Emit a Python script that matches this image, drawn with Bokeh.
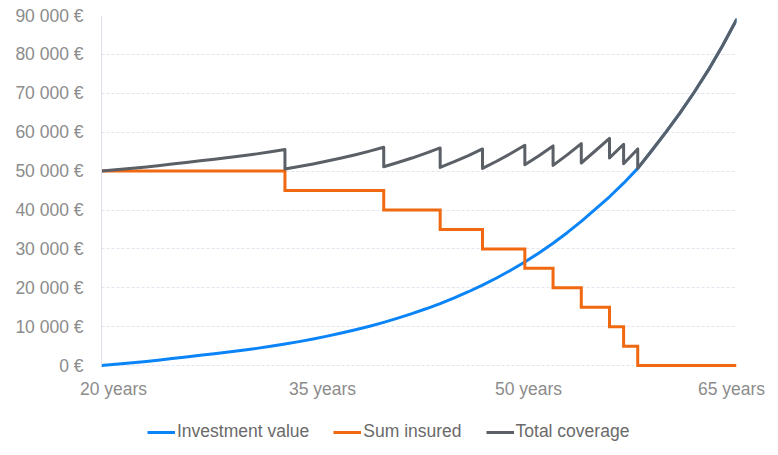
from bokeh.plotting import figure
from bokeh.layouts import column
from bokeh.models import Range1d, FixedTicker, Legend, LegendItem
from bokeh.embed import file_html
from bokeh.resources import INLINE

# ---- data ----
ages = list(range(20, 66))
investment = [0, 320, 658, 1017, 1397, 1799, 2227, 2652, 3046, 3472,
              3932, 4428, 4965, 5544, 6169, 6845, 7574, 8363, 9214, 10133,
              11125, 12197, 13355, 14606, 15956, 17414, 18990, 20691, 22528, 24512,
              26655, 28970, 31469, 34169, 37084, 40233, 43400, 46900, 50700, 55300,
              60000, 64980, 70276, 75954, 82148, 88896]
sum_insured = [50000] * 13 + [45000] * 7 + [40000] * 4 + [35000] * 3 + [30000] * 3 \
    + [25000] * 2 + [20000] * 2 + [15000] * 2 + [10000] + [5000] + [0] * 8

y_ticks = [0, 10000, 20000, 30000, 40000, 50000, 60000, 70000, 80000, 90000]
y_tick_labels = ["0 €", "10 000 €", "20 000 €", "30 000 €", "40 000 €",
                 "50 000 €", "60 000 €", "70 000 €", "80 000 €", "90 000 €"]
x_tick_labels = ["20 years", "35 years", "50 years", "65 years"]
x_tick_pos = [20.85, 35.66, 50.26, 64.65]

series_names = ["Investment value", "Sum insured", "Total coverage"]
colors = ["#0a84f6", "#f0680f", "#5b5f66"]

# total coverage = investment + sum insured (with vertical drops at step ages)
tot_x, tot_y = [], []
for i, a in enumerate(ages):
    if i > 0 and sum_insured[i] != sum_insured[i - 1]:
        tot_x.append(a)
        tot_y.append(investment[i] + sum_insured[i - 1])
    tot_x.append(a)
    tot_y.append(investment[i] + sum_insured[i])

FONT = "Liberation Sans"
FS = "17.5px"

p = figure(width=770, height=405, output_backend="svg", toolbar_location=None,
           x_range=Range1d(20, 65), y_range=Range1d(-1000, 90000),
           min_border_left=101, min_border_right=34, min_border_top=15,
           min_border_bottom=36)
p.outline_line_color = None
p.background_fill_color = "white"
p.border_fill_color = "white"

p.line(ages, investment, line_color=colors[0], line_width=3, line_join="round", line_cap="round")
p.step(ages, sum_insured, mode="after", line_color=colors[1], line_width=3, line_join="miter")
p.line(tot_x, tot_y, line_color=colors[2], line_width=3, line_join="round", line_cap="round")

# grid
p.xgrid.grid_line_color = None
p.ygrid.ticker = FixedTicker(ticks=y_ticks)
p.ygrid.grid_line_color = "#e2e3ec"
p.ygrid.grid_line_dash = "3 2"
p.ygrid.grid_line_width = 1

# y axis
p.yaxis.ticker = FixedTicker(ticks=y_ticks)
p.yaxis.major_label_overrides = dict(zip(y_ticks, y_tick_labels))
p.yaxis.axis_line_color = "#dde1ec"
p.yaxis.bounds = (0, 90000)
p.yaxis.major_tick_line_color = None
p.yaxis.minor_tick_line_color = None
p.yaxis.major_tick_out = 0
p.yaxis.major_tick_in = 0
p.yaxis.major_label_standoff = 18
p.yaxis.major_label_text_font = FONT
p.yaxis.major_label_text_font_size = FS
p.yaxis.major_label_text_color = "#8c8c8c"

# x axis
p.xaxis.ticker = FixedTicker(ticks=x_tick_pos)
p.xaxis.major_label_overrides = dict(zip(x_tick_pos, x_tick_labels))
p.xaxis.axis_line_color = None
p.xaxis.major_tick_line_color = None
p.xaxis.minor_tick_line_color = None
p.xaxis.major_tick_out = 0
p.xaxis.major_tick_in = 0
p.xaxis.major_label_standoff = 9
p.xaxis.major_label_text_font = FONT
p.xaxis.major_label_text_font_size = FS
p.xaxis.major_label_text_color = "#8c8c8c"

# ---- legend strip (separate figure below the chart; its lines fall outside its ranges) ----
lg = figure(width=770, height=42, output_backend="svg", toolbar_location=None,
            x_range=Range1d(0, 1), y_range=Range1d(0, 1),
            x_axis_type=None, y_axis_type=None,
            min_border_left=0, min_border_right=0, min_border_top=0, min_border_bottom=0)
lg.outline_line_color = None
lg.xgrid.grid_line_color = None
lg.ygrid.grid_line_color = None
items = []
for name, c, ys in zip(series_names, colors, [investment, sum_insured, investment]):
    rr = lg.line(x=ages, y=ys, line_color=c, line_width=3)
    items.append(LegendItem(label=name, renderers=[rr]))
legend = Legend(items=items, orientation="horizontal", location=(46, 5),
                glyph_width=28, glyph_height=20, label_standoff=2, spacing=24,
                padding=0, margin=0, border_line_color=None,
                background_fill_alpha=0,
                label_text_font=FONT, label_text_font_size=FS,
                label_text_color="#6a6a6a")
lg.add_layout(legend, "center")

layout = column(p, lg, spacing=0)
open("out.html", "w").write(file_html(layout, INLINE))
